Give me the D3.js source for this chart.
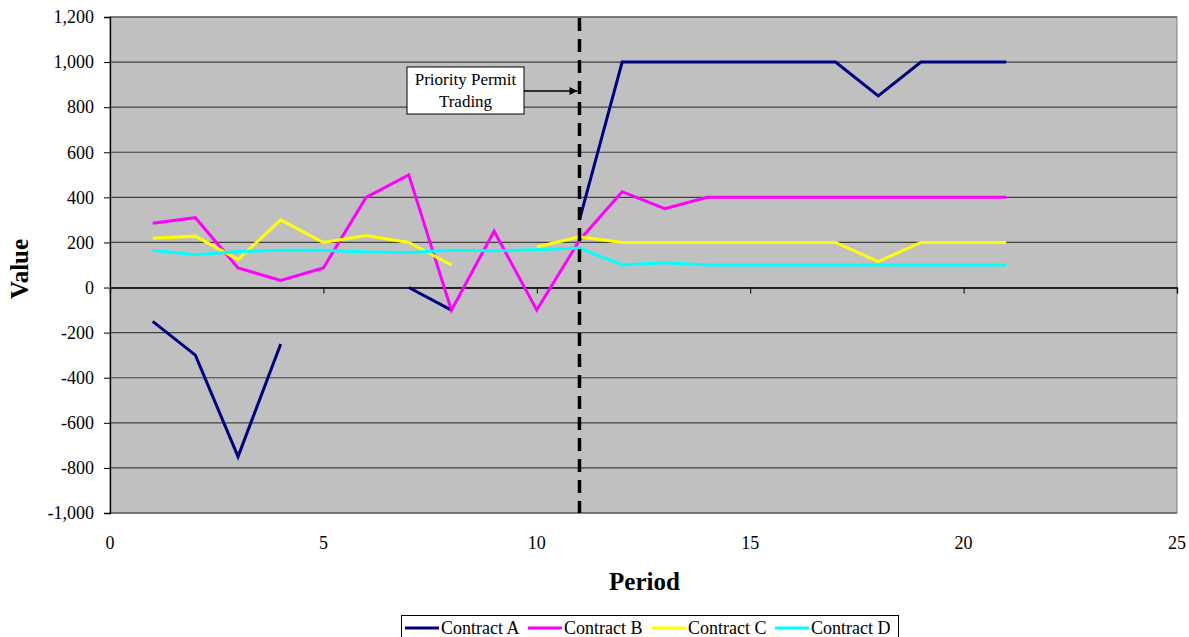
<!DOCTYPE html>
<html><head><meta charset="utf-8">
<script src="https://cdn.jsdelivr.net/npm/d3@7"></script>
<style>body{margin:0;background:#fff}svg{display:block}</style>
</head><body>
<script>
const periods = [1,2,3,4,5,6,7,8,9,10,11,12,13,14,15,16,17,18,19,20,21];
const contractA = [-150,-300,-750,-250,null,null,0,-100,null,null,300,1000,1000,1000,1000,1000,1000,850,1000,1000,1000];
const contractB = [285,310,87,32,87,400,500,-100,250,-100,210,425,350,400,400,400,400,400,400,400,400];
const contractC = [219,228,124,300,200,231,200,100,null,180,225,200,200,200,200,200,200,115,200,200,200];
const contractD = [165,145,160,165,165,158,155,165,163,168,175,100,110,100,100,100,100,100,100,100,100];
const seriesNames = ["Contract A","Contract B","Contract C","Contract D"];
const seriesColors = ["#000080","#FF00FF","#FFFF00","#00FFFF"];
const xTicks = [0,5,10,15,20,25];
const yTicks = [-1000,-800,-600,-400,-200,0,200,400,600,800,1000,1200];
const eventPeriod = 11;
const eventLabel = ["Priority Permit","Trading"];

const W=1189,H=637;
const m={l:110,r:1177,t:17,b:513};
const FONT="'Liberation Serif','Times New Roman',serif";
const svg=d3.select("body").append("svg").attr("width",W).attr("height",H)
  .style("font-family",FONT);
const x=d3.scaleLinear().domain([0,25]).range([m.l,m.r]);
const y=d3.scaleLinear().domain([-1000,1200]).range([m.b,m.t]);
const fmt=d=>d3.format(",")(d).replace("\u2212","-");

svg.append("rect").attr("x",m.l).attr("y",m.t).attr("width",m.r-m.l).attr("height",m.b-m.t)
  .attr("fill","#C0C0C0").attr("stroke","#808080").attr("stroke-width",1);

// gridlines
svg.append("g").selectAll("line").data(yTicks).join("line")
  .attr("x1",m.l).attr("x2",m.r).attr("y1",d=>y(d)).attr("y2",d=>y(d))
  .attr("stroke","#404040").attr("stroke-width",1.2);

// y axis
const ya=svg.append("g").attr("transform",`translate(${m.l},0)`)
  .call(d3.axisLeft(y).tickValues(yTicks).tickSize(6).tickPadding(10).tickFormat(fmt));
ya.select(".domain").attr("stroke","#000").attr("stroke-width",1.3);
ya.selectAll("text").attr("font-size",18).attr("fill","#000").style("font-family",FONT);

// x axis line at 0 with ticks
const xa=svg.append("g").attr("transform",`translate(0,${y(0)})`)
  .call(d3.axisBottom(x).tickValues(xTicks).tickSize(6).tickFormat(""));
xa.select(".domain").attr("stroke","#000").attr("stroke-width",1.3);
xa.selectAll("line").attr("stroke","#000");
// x tick labels at bottom
svg.append("g").selectAll("text").data(xTicks).join("text")
  .attr("x",d=>x(d)).attr("y",549).attr("text-anchor","middle")
  .attr("font-size",18).text(d=>d);

// titles
svg.append("text").attr("x",(m.l+m.r)/2+1).attr("y",590).attr("text-anchor","middle")
  .attr("font-size",25).attr("font-weight","bold").text("Period");
svg.append("text").attr("transform",`translate(28,269) rotate(-90)`)
  .attr("text-anchor","middle").attr("font-size",25).attr("font-weight","bold").text("Value");

// lines
const all=[contractA,contractB,contractC,contractD];
const line=d3.line().defined(d=>d[1]!==null).x(d=>x(d[0])).y(d=>y(d[1]));
all.forEach((vals,i)=>{
  svg.append("path").datum(periods.map((p,j)=>[p,vals[j]]))
    .attr("d",line).attr("fill","none").attr("stroke",seriesColors[i])
    .attr("stroke-width",3).attr("stroke-linejoin","miter");
});

// event line
svg.append("line").attr("x1",x(eventPeriod)).attr("x2",x(eventPeriod))
  .attr("y1",m.t+1).attr("y2",m.b).attr("stroke","#000").attr("stroke-width",3.5)
  .attr("stroke-dasharray","13,8");

// annotation
const bx=407,by=67,bw=117,bh=47;
svg.append("rect").attr("x",bx).attr("y",by).attr("width",bw).attr("height",bh)
  .attr("fill","#fff").attr("stroke","#000").attr("stroke-width",1);
eventLabel.forEach((t,i)=>svg.append("text").attr("x",bx+bw/2).attr("y",by+18+i*22)
  .attr("text-anchor","middle").attr("font-size",17).text(t));
svg.append("defs").append("marker").attr("id","arr").attr("viewBox","0 0 10 10")
  .attr("refX",10).attr("refY",5).attr("markerWidth",9).attr("markerHeight",8)
  .attr("markerUnits","userSpaceOnUse").attr("orient","auto")
  .append("path").attr("d","M0,0L10,5L0,10z").attr("fill","#000");
svg.append("line").attr("x1",bx+bw).attr("x2",x(eventPeriod)-2).attr("y1",91).attr("y2",91)
  .attr("stroke","#000").attr("stroke-width",1.5).attr("marker-end","url(#arr)");

// legend
const lg=svg.append("g");
lg.append("rect").attr("x",401.5).attr("y",615.5).attr("width",497).attr("height",24)
  .attr("fill","#fff").attr("stroke","#000").attr("stroke-width",1);
const lx=[405,528,652,775];
seriesNames.forEach((n,i)=>{
  lg.append("line").attr("x1",lx[i]).attr("x2",lx[i]+34).attr("y1",628).attr("y2",628)
    .attr("stroke",seriesColors[i]).attr("stroke-width",3);
  lg.append("text").attr("x",lx[i]+36).attr("y",634).attr("font-size",18).text(n);
});
</script>
</body></html>
